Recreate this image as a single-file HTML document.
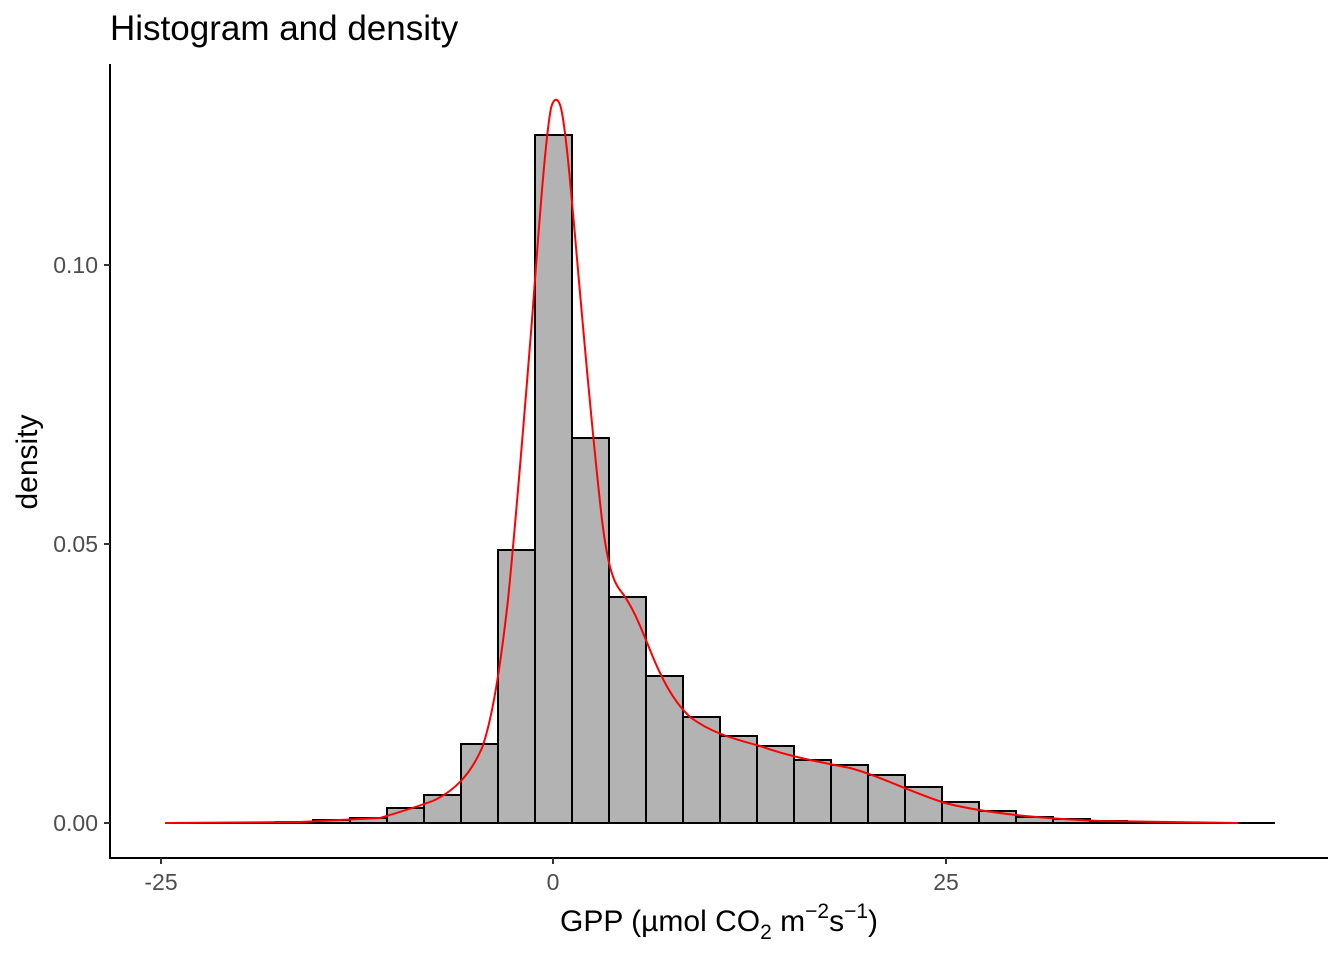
<!DOCTYPE html>
<html><head><meta charset="utf-8"><style>
body{margin:0;background:#fff;}
svg{display:block;font-family:"Liberation Sans",sans-serif;}
</style></head><body>
<svg width="1344" height="960" viewBox="0 0 1344 960" xmlns="http://www.w3.org/2000/svg">
<rect width="1344" height="960" fill="#fff"/>
<text x="110" y="40" font-size="35" fill="#000">Histogram and density</text>
<g fill="#b3b3b3" stroke="#000" stroke-width="2">
<rect x="276" y="822" width="37" height="1"/>
<rect x="313" y="820" width="37" height="3"/>
<rect x="350" y="818" width="37" height="5"/>
<rect x="387" y="808" width="37" height="15"/>
<rect x="424" y="795" width="37" height="28"/>
<rect x="461" y="744" width="37" height="79"/>
<rect x="498" y="550" width="37" height="273"/>
<rect x="535" y="135" width="37" height="688"/>
<rect x="572" y="438" width="37" height="385"/>
<rect x="609" y="597" width="37" height="226"/>
<rect x="646" y="676" width="37" height="147"/>
<rect x="683" y="717" width="37" height="106"/>
<rect x="720" y="736" width="37" height="87"/>
<rect x="757" y="746" width="37" height="77"/>
<rect x="794" y="760" width="37" height="63"/>
<rect x="831" y="765" width="37" height="58"/>
<rect x="868" y="775" width="37" height="48"/>
<rect x="905" y="787" width="37" height="36"/>
<rect x="942" y="802" width="37" height="21"/>
<rect x="979" y="811" width="37" height="12"/>
<rect x="1016" y="817" width="37" height="6"/>
<rect x="1053" y="819" width="37" height="4"/>
<rect x="1090" y="821" width="37" height="2"/>
<rect x="1127" y="822" width="37" height="1"/>
</g>
<line x1="165" y1="823" x2="1275" y2="823" stroke="#000" stroke-width="2"/>
<path fill="none" stroke="#ff0000" stroke-width="2" stroke-linejoin="round" d="M165,823 L300,822 L380,818 C400,812 420,806 435,800 C455,790 470,775 482,748 C492,720 500,670 508,600 C516,520 524,420 532,320 C538,240 545,140 551,108 C554,97 558,97 561,108 C566,130 571,190 578,270 C585,350 594,450 602,520 C607,560 612,580 620,590 C632,605 640,625 650,650 C660,675 672,700 690,717 C710,732 730,738 760,746 C790,757 820,762 850,768 C880,776 910,792 945,803 C980,812 1030,818 1100,821 L1238,823"/>
<line x1="110" y1="64" x2="110" y2="859" stroke="#000" stroke-width="2"/>
<line x1="109" y1="858" x2="1328" y2="858" stroke="#000" stroke-width="2"/>
<g stroke="#333" stroke-width="2">
<line x1="104" y1="823" x2="110" y2="823"/>
<line x1="104" y1="544" x2="110" y2="544"/>
<line x1="104" y1="265" x2="110" y2="265"/>
<line x1="161" y1="858" x2="161" y2="864"/>
<line x1="553" y1="858" x2="553" y2="864"/>
<line x1="946" y1="858" x2="946" y2="864"/>
</g>
<g font-size="23" fill="#4d4d4d" text-anchor="end">
<text x="98" y="831">0.00</text>
<text x="98" y="552">0.05</text>
<text x="98" y="273">0.10</text>
</g>
<g font-size="23" fill="#4d4d4d" text-anchor="middle">
<text x="161" y="890">-25</text>
<text x="553" y="890">0</text>
<text x="946" y="890">25</text>
</g>
<text x="719" y="931" font-size="30" text-anchor="middle" fill="#000">GPP (µmol CO<tspan font-size="21" dy="8">2</tspan><tspan dy="-8"> m</tspan><tspan font-size="21" dy="-13">−2</tspan><tspan dy="13">s</tspan><tspan font-size="21" dy="-13">−1</tspan><tspan dy="13">)</tspan></text>
<text transform="translate(37,462) rotate(-90)" font-size="30" text-anchor="middle" fill="#000">density</text>
</svg>
</body></html>
